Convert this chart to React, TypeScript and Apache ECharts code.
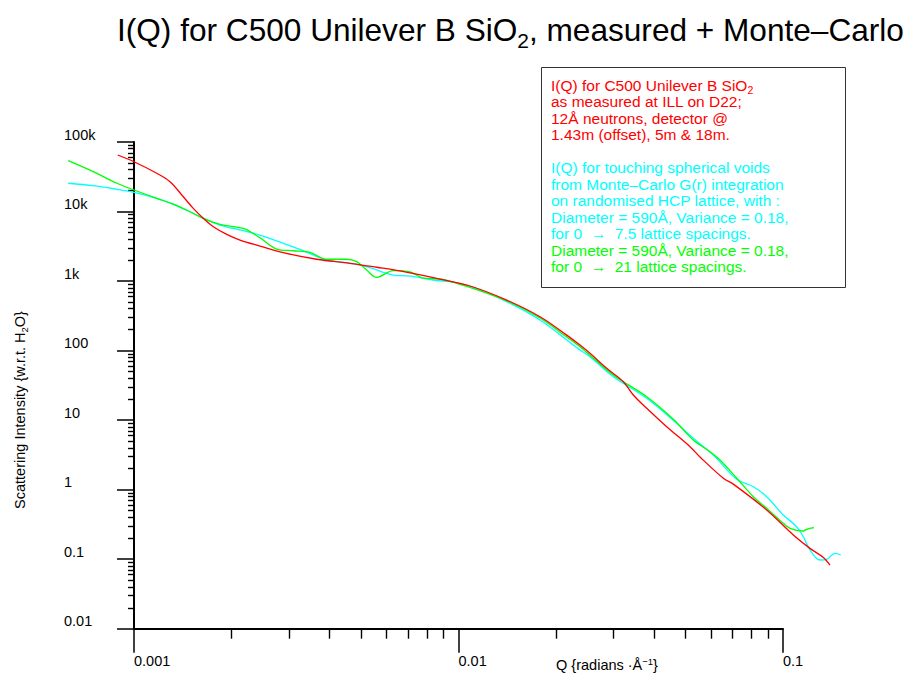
import React, { useEffect, useRef } from 'react';
import * as echarts from 'echarts';

// ---- Data ----
// Measured I(Q) (red)
const qMeasured = [8.91e-4, 1.0e-3, 1.175e-3, 1.291e-3, 1.419e-3, 1.523e-3, 1.635e-3, 1.756e-3, 1.931e-3, 2.122e-3, 2.445e-3, 2.885e-3, 3.656e-3, 4.63e-3, 5.596e-3, 6.601e-3, 8.363e-3, 1.085e-2, 1.408e-2, 1.783e-2, 2.155e-2, 2.368e-2, 2.542e-2, 2.862e-2, 3.221e-2, 3.457e-2, 3.802e-2, 4.381e-2, 5.169e-2, 5.549e-2, 6.546e-2, 7.029e-2, 8.907e-2, 0.1076, 0.1211, 0.1331, 0.1396];
const iMeasured = [65000, 52000, 35500, 26800, 16300, 11100, 7980, 6050, 4700, 3890, 3190, 2560, 2060, 1800, 1580, 1400, 1120, 849, 533, 307, 167, 120, 91.4, 55.6, 35.7, 23.0, 14.8, 8.04, 4.15, 2.95, 1.46, 1.2, 0.51, 0.223, 0.143, 0.106, 0.0824];

// Monte-Carlo, 0 -> 7.5 lattice spacings (cyan)
const qMC75 = [6.27e-4, 7.49e-4, 8.85e-4, 1.0e-3, 1.175e-3, 1.322e-3, 1.488e-3, 1.635e-3, 1.841e-3, 2.172e-3, 2.445e-3, 2.885e-3, 3.248e-3, 3.925e-3, 4.63e-3, 5.213e-3, 6.297e-3, 7.088e-3, 8.363e-3, 9.414e-3, 1.085e-2, 1.408e-2, 1.783e-2, 2.155e-2, 2.368e-2, 2.542e-2, 3.0e-2, 3.802e-2, 4.703e-2, 5.292e-2, 6.098e-2, 7.201e-2, 8.102e-2, 8.907e-2, 0.1002, 0.1102, 0.1155, 0.1211, 0.130, 0.1363, 0.1446, 0.1506];
const iMC75 = [25500, 23500, 20900, 18900, 15500, 12700, 9930, 7980, 6400, 5300, 4590, 3490, 2860, 2010, 1800, 1610, 1220, 1180, 1035, 980, 849, 505, 275, 142, 102, 81.7, 42.1, 20.6, 9.0, 5.47, 3.15, 1.41, 1.10, 0.791, 0.432, 0.293, 0.210, 0.136, 0.0973, 0.0996, 0.121, 0.115];

// Monte-Carlo, 0 -> 21 lattice spacings (green)
const qMC21 = [6.27e-4, 7.49e-4, 8.85e-4, 1.0e-3, 1.175e-3, 1.322e-3, 1.488e-3, 1.635e-3, 1.841e-3, 2.172e-3, 2.278e-3, 2.445e-3, 2.753e-3, 3.097e-3, 3.486e-3, 3.925e-3, 4.523e-3, 4.857e-3, 5.213e-3, 5.596e-3, 6.297e-3, 7.088e-3, 7.791e-3, 8.77e-3, 9.873e-3, 1.085e-2, 1.408e-2, 1.783e-2, 2.155e-2, 2.368e-2, 3.0e-2, 3.802e-2, 4.592e-2, 5.292e-2, 5.957e-2, 6.395e-2, 7.201e-2, 8.102e-2, 8.907e-2, 0.1002, 0.1051, 0.1155, 0.1183, 0.1246];
const iMC21 = [53800, 37400, 25500, 20400, 15500, 12800, 9930, 7980, 6550, 5740, 5130, 4200, 2890, 2730, 2590, 2060, 2060, 1900, 1440, 1130, 1410, 1350, 1100, 1070, 929, 813, 520, 294, 157, 114, 44.6, 21.7, 10.3, 5.17, 3.51, 2.67, 1.46, 0.791, 0.539, 0.328, 0.278, 0.254, 0.269, 0.284];

// ---- Axis ticks ----
const xMajorTicks = [0.001, 0.01, 0.1];
const xTickLabels = ['0.001', '0.01', '0.1'];
const xMinorTicks = [0.002, 0.003, 0.004, 0.005, 0.006, 0.007, 0.008, 0.009, 0.02, 0.03, 0.04, 0.05, 0.06, 0.07, 0.08, 0.09];
const yMajorTicks = [0.01, 0.1, 1, 10, 100, 1000, 10000, 100000];
const yTickLabels = ['0.01', '0.1', '1', '10', '100', '1k', '10k', '100k'];
const yMinorTicks = [
  0.02, 0.03, 0.04, 0.05, 0.06, 0.07, 0.08, 0.09,
  0.2, 0.3, 0.4, 0.5, 0.6, 0.7, 0.8, 0.9,
  2, 3, 4, 5, 6, 7, 8, 9,
  20, 30, 40, 50, 60, 70, 80, 90,
  200, 300, 400, 500, 600, 700, 800, 900,
  2000, 3000, 4000, 5000, 6000, 7000, 8000, 9000,
  20000, 30000, 40000, 50000, 60000, 70000, 80000, 90000,
];

const X_MIN = 0.001;
const X_MAX = 0.1;
const Y_MIN = 0.01;
const Y_MAX = 100000;

const RED = '#ff0000';
const CYAN = '#00ffff';
const GREEN = '#00ff00';
const FONT = '"Liberation Sans", Arial, Helvetica, sans-serif';

const legendLines: { text: string; color: string; row: number }[] = [
  { text: '{m|I(Q) for C500 Unilever B SiO}{s|2}', color: RED, row: 0 },
  { text: 'as measured at ILL on D22;', color: RED, row: 1 },
  { text: '12Å neutrons, detector @', color: RED, row: 2 },
  { text: '1.43m (offset), 5m & 18m.', color: RED, row: 3 },
  { text: 'I(Q) for touching spherical voids', color: CYAN, row: 5 },
  { text: 'from Monte–Carlo G(r) integration', color: CYAN, row: 6 },
  { text: 'on randomised HCP lattice, with :', color: CYAN, row: 7 },
  { text: 'Diameter = 590Å, Variance = 0.18,', color: CYAN, row: 8 },
  { text: 'for 0  →  7.5 lattice spacings.', color: CYAN, row: 9 },
  { text: 'Diameter = 590Å, Variance = 0.18,', color: GREEN, row: 10 },
  { text: 'for 0  →  21 lattice spacings.', color: GREEN, row: 11 },
];

function zip(q: number[], v: number[]) {
  return q.map((x, i) => [x, v[i]]);
}

function yLabel(v: number) {
  const idx = yMajorTicks.findIndex((t) => Math.abs(Math.log10(t) - Math.log10(v)) < 1e-6);
  return idx >= 0 ? yTickLabels[idx] : '';
}
function xLabel(v: number) {
  const idx = xMajorTicks.findIndex((t) => Math.abs(Math.log10(t) - Math.log10(v)) < 1e-6);
  return idx >= 0 ? xTickLabels[idx] : '';
}

// Layout of the axes frame (pixels)
const AX_LEFT = 134;
const AX_RIGHT_PX = 783;
const AX_TOP = 142;
const AX_BOTTOM_PX = 628.7;
const W = 907;
const H = 676;
// Wider plotting area for the curves (they run past the drawn axes)
const PLOT_LEFT = 55;
const PLOT_RIGHT_PX = 865;

export default function App() {
  const ref = useRef<HTMLDivElement>(null);
  useEffect(() => {
    if (!ref.current) return;
    const chart = echarts.init(ref.current, undefined, { renderer: 'svg' });
    const axisColor = '#000';
    const lineStyleCommon = { width: 1.3 };

    // Extend the curve grid's log extent so it maps identically to the drawn axes.
    const pxPerDecade = (AX_RIGHT_PX - AX_LEFT) / (Math.log10(X_MAX) - Math.log10(X_MIN));
    const plotXMin = Math.pow(10, Math.log10(X_MIN) - (AX_LEFT - PLOT_LEFT) / pxPerDecade);
    const plotXMax = Math.pow(10, Math.log10(X_MAX) + (PLOT_RIGHT_PX - AX_RIGHT_PX) / pxPerDecade);

    const hiddenAxis = {
      axisLine: { show: false },
      axisTick: { show: false },
      axisLabel: { show: false },
      splitLine: { show: false },
    };

    const option: any = {
      animation: false,
      backgroundColor: '#fff',
      grid: [
        { left: AX_LEFT, right: W - AX_RIGHT_PX, top: AX_TOP, bottom: H - AX_BOTTOM_PX, containLabel: false },
        { left: PLOT_LEFT, right: W - PLOT_RIGHT_PX, top: AX_TOP, bottom: H - AX_BOTTOM_PX, containLabel: false },
      ],
      xAxis: [
        {
          type: 'log',
          gridIndex: 0,
          logBase: 10,
          min: X_MIN,
          max: X_MAX,
          position: 'bottom',
          axisLine: { show: true, onZero: false, lineStyle: { color: axisColor, width: 2 } },
          axisTick: { show: true, inside: false, length: 24, customValues: xMajorTicks, lineStyle: { color: axisColor, width: 1.5 } },
          axisLabel: {
            show: true,
            customValues: xMajorTicks,
            formatter: (v: number) => xLabel(v),
            align: 'left',
            margin: 25,
            color: '#000',
            fontSize: 14.5,
            fontFamily: FONT,
          },
          splitLine: { show: false },
        },
        {
          type: 'log',
          gridIndex: 0,
          logBase: 10,
          min: X_MIN,
          max: X_MAX,
          position: 'bottom',
          axisLine: { show: false, onZero: false },
          axisTick: { show: true, inside: false, length: 10, customValues: xMinorTicks, lineStyle: { color: axisColor, width: 1.4 } },
          axisLabel: { show: false },
          splitLine: { show: false },
        },
        {
          type: 'log',
          gridIndex: 1,
          logBase: 10,
          min: plotXMin,
          max: plotXMax,
          ...hiddenAxis,
        },
      ],
      yAxis: [
        {
          type: 'log',
          gridIndex: 0,
          logBase: 10,
          min: Y_MIN,
          max: Y_MAX,
          position: 'left',
          axisLine: { show: true, onZero: false, lineStyle: { color: axisColor, width: 2 } },
          axisTick: { show: true, inside: false, length: 17, customValues: yMajorTicks, lineStyle: { color: axisColor, width: 1.5 } },
          axisLabel: {
            show: true,
            customValues: yMajorTicks,
            formatter: (v: number) => yLabel(v),
            align: 'left',
            verticalAlign: 'bottom',
            margin: 70,
            color: '#000',
            fontSize: 14.5,
            fontFamily: FONT,
          },
          splitLine: { show: false },
        },
        {
          type: 'log',
          gridIndex: 0,
          logBase: 10,
          min: Y_MIN,
          max: Y_MAX,
          position: 'left',
          axisLine: { show: false, onZero: false },
          axisTick: { show: true, inside: false, length: 6, customValues: yMinorTicks, lineStyle: { color: axisColor, width: 1.4 } },
          axisLabel: { show: false },
          splitLine: { show: false },
        },
        {
          type: 'log',
          gridIndex: 1,
          logBase: 10,
          min: Y_MIN,
          max: Y_MAX,
          ...hiddenAxis,
        },
      ],
      series: [
        {
          name: 'MC 7.5',
          type: 'line',
          xAxisIndex: 2,
          yAxisIndex: 2,
          data: zip(qMC75, iMC75),
          showSymbol: false,
          symbol: 'none',
          smooth: 0.35,
          clip: false,
          lineStyle: { ...lineStyleCommon, color: CYAN },
          itemStyle: { color: CYAN },
        },
        {
          name: 'MC 21',
          type: 'line',
          xAxisIndex: 2,
          yAxisIndex: 2,
          data: zip(qMC21, iMC21),
          showSymbol: false,
          symbol: 'none',
          smooth: 0.35,
          clip: false,
          lineStyle: { ...lineStyleCommon, color: GREEN },
          itemStyle: { color: GREEN },
        },
        {
          name: 'Measured',
          type: 'line',
          xAxisIndex: 2,
          yAxisIndex: 2,
          data: zip(qMeasured, iMeasured),
          showSymbol: false,
          symbol: 'none',
          smooth: 0.35,
          clip: false,
          lineStyle: { ...lineStyleCommon, color: RED },
          itemStyle: { color: RED },
        },
      ],
      graphic: [
        {
          type: 'text',
          left: 117,
          top: 14,
          z: 100,
          style: {
            text: '{a|I(Q) for C500 Unilever B SiO}{s|2}{a|, measured + Monte–Carlo}',
            rich: {
              a: { fontSize: 31.6, lineHeight: 42, fontFamily: FONT, fill: '#000' },
              s: { fontSize: 21, lineHeight: 21, fontFamily: FONT, fill: '#000', verticalAlign: 'bottom' },
            },
          },
        },
        {
          type: 'rect',
          z: 90,
          shape: { x: 541.5, y: 67.5, width: 304, height: 220 },
          style: { fill: '#fff', stroke: '#333', lineWidth: 1 },
        },
        ...legendLines.map((l) => ({
          type: 'text',
          z: 100,
          x: 551,
          y: 85 + 16.5 * l.row,
          style: {
            text: l.text,
            fill: l.color,
            fontSize: 15.5,
            fontFamily: FONT,
            verticalAlign: 'middle',
            align: 'left',
            rich: {
              m: { fontSize: 15.5, lineHeight: 20, fontFamily: FONT, fill: l.color },
              s: { fontSize: 10.5, lineHeight: 11, fontFamily: FONT, fill: l.color, verticalAlign: 'bottom' },
            },
          },
        })),
        {
          type: 'text',
          z: 100,
          x: 607,
          y: 665,
          style: {
            text: '{a|Q {radians ·Å}{p|−1}}',
            fontSize: 14.5,
            fontFamily: FONT,
            fill: '#000',
            align: 'center',
            verticalAlign: 'middle',
            rich: {
              a: { fontSize: 14.5, lineHeight: 18, fontFamily: FONT, fill: '#000' },
              p: { fontSize: 9.5, lineHeight: 9.5, fontFamily: FONT, fill: '#000', verticalAlign: 'top' },
            },
          },
        },
        {
          type: 'text',
          z: 100,
          x: 20,
          y: 410,
          rotation: Math.PI / 2,
          style: {
            text: '{a|Scattering Intensity {w.r.t. H}{s|2}{a|O}}',
            fontSize: 14.5,
            fontFamily: FONT,
            fill: '#000',
            align: 'center',
            verticalAlign: 'middle',
            rich: {
              a: { fontSize: 14.5, lineHeight: 18, fontFamily: FONT, fill: '#000' },
              s: { fontSize: 9.5, lineHeight: 9.5, fontFamily: FONT, fill: '#000', verticalAlign: 'bottom' },
            },
          },
        },
      ],
    };
    chart.setOption(option);
    return () => chart.dispose();
  }, []);
  return (
    <div
      ref={ref}
      style={{ position: 'fixed', left: 0, top: 0, width: W, height: H, background: '#fff' }}
    />
  );
}
